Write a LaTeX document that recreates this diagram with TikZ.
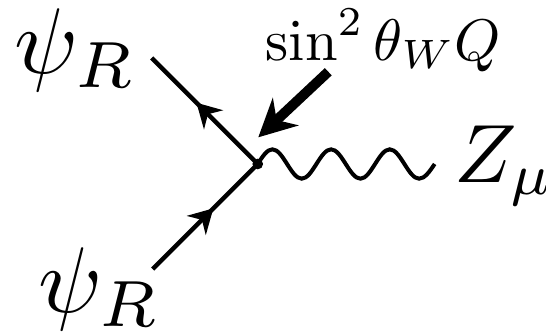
\documentclass[tikz,border=0pt]{standalone}
\usepackage{amsmath}
\usetikzlibrary{calc,arrows.meta,decorations.pathmorphing,decorations.markings,positioning}
\tikzset{
  fermion/.style={line width=3.3pt, decoration={markings, mark=at position 0.58 with {\arrow{Stealth[length=18pt,width=20pt]}}}, postaction={decorate}},
  boson/.style={line width=3pt},
  insertion/.style={-{Stealth[length=28pt,width=28pt]}, line width=7.5pt},
  biglabel/.style={inner sep=0pt, anchor=base west, scale=7},
  zlabel/.style={inner sep=0pt, anchor=base west, scale=6.2},
  notelabel/.style={inner sep=0pt, anchor=base west, scale=4.4}
}
\begin{document}
\begin{tikzpicture}[x=1pt,y=-1pt]
  \useasboundingbox (0,0) rectangle (409.5,249.75);
  \coordinate (V) at (193.3,123);
  \coordinate (Qin) at (113.8,43.5);
  \coordinate (Qout) at (114.5,201.75);
  \coordinate (Zend) at (326,123);
  \coordinate (Bstart) at (246.2,53.8);
  \coordinate (Bend) at (193.7,103);
  \node[biglabel] (psiT) at (9.5,55) {$\psi_R$};
  \node[biglabel] (psiB) at (27.5,234) {$\psi_R$};
  \node[zlabel] (Zmu) at (339.5,136.5) {$Z_\mu$};
  \node[notelabel] (sinQ) at (198.5,45) {$\sin^2\theta_W Q$};
  \draw[fermion] (V) -- (Qin);
  \draw[fermion] (Qout) -- (V);
  \draw[boson] (V) sin ++(11,-11) cos ++(11,11) sin ++(11,11) cos ++(11,-11)
    sin ++(11,-11) cos ++(11,11) sin ++(11,11) cos ++(11,-11)
    sin ++(11,-11) cos ++(11,11) sin ++(11,11) cos (Zend);
  \draw[insertion] (Bstart) -- (Bend);
  \fill (V) circle (4pt);
\end{tikzpicture}
\end{document}
